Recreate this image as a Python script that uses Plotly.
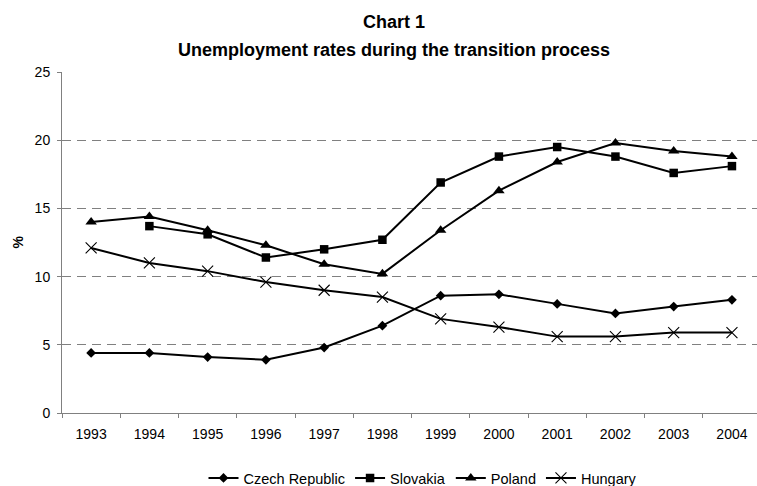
import plotly.graph_objects as go

YEARS = ["1993", "1994", "1995", "1996", "1997", "1998",
         "1999", "2000", "2001", "2002", "2003", "2004"]

CZECH = [4.4, 4.4, 4.1, 3.9, 4.8, 6.4, 8.6, 8.7, 8.0, 7.3, 7.8, 8.3]
SLOVAKIA = [None, 13.7, 13.1, 11.4, 12.0, 12.7, 16.9, 18.8, 19.5, 18.8, 17.6, 18.1]
POLAND = [14.0, 14.4, 13.4, 12.3, 10.9, 10.2, 13.4, 16.3, 18.4, 19.8, 19.2, 18.8]
HUNGARY = [12.1, 11.0, 10.4, 9.6, 9.0, 8.5, 6.9, 6.3, 5.6, 5.6, 5.9, 5.9]

Y_TICKS = [0, 5, 10, 15, 20, 25]

FONT = "Liberation Sans, Arial, sans-serif"
GRID = "#808080"

W, H = 757, 486
L, R, T, B = 62, 0, 72, 73

series = [
    ("Czech Republic", CZECH, dict(symbol="diamond", size=7.5, color="black")),
    ("Slovakia", SLOVAKIA, dict(symbol="square", size=8.5, color="black")),
    ("Poland", POLAND, dict(symbol="triangle-up", size=10, color="black")),
    ("Hungary", HUNGARY, dict(symbol="x-thin", size=11, color="black",
                              line=dict(width=1.1, color="black"))),
]

fig = go.Figure()
for name, vals, marker in series:
    fig.add_trace(go.Scatter(
        x=YEARS, y=vals, name=name, mode="lines+markers",
        line=dict(color="black", width=2), marker=marker,
    ))

plot_w = W - L - R
plot_h = H - T - B


def px_x(px):
    return (px - L) / plot_w


def px_y(py):
    return (H - B - py) / plot_h


fig.update_layout(
    width=W, height=H,
    margin=dict(l=L, r=R, t=T, b=B),
    paper_bgcolor="white", plot_bgcolor="white",
    font=dict(family=FONT, size=14, color="black"),
    showlegend=True,
    legend=dict(orientation="h", xref="container", yref="container",
                x=423 / W, xanchor="center", y=1 - 478 / H, yanchor="middle",
                font=dict(size=14.5, family=FONT), bgcolor="rgba(0,0,0,0)",
                itemwidth=30),
    annotations=[
        dict(text="<b>Chart 1</b>", xref="paper", yref="paper",
             x=px_x(394), y=px_y(22), xanchor="center", yanchor="middle",
             showarrow=False, font=dict(size=18, family=FONT)),
        dict(text="<b>Unemployment rates during the transition process</b>",
             xref="paper", yref="paper",
             x=px_x(394), y=px_y(50), xanchor="center", yanchor="middle",
             showarrow=False, font=dict(size=18, family=FONT)),
        dict(text="<b>%</b>", xref="paper", yref="paper",
             x=px_x(17), y=0.5, xanchor="center", yanchor="middle",
             textangle=-90, showarrow=False, font=dict(size=14, family=FONT)),
    ],
)

fig.update_xaxes(
    type="category", range=[-0.5, 11.43],
    tickson="boundaries", ticks="outside", ticklen=4, tickcolor=GRID, tickwidth=1,
    showgrid=False, zeroline=False,
    showline=True, linecolor=GRID, linewidth=1,
    tickfont=dict(size=14), ticklabelstandoff=8,
)

fig.update_yaxes(
    range=[0, 25], tickvals=Y_TICKS,
    showgrid=True, gridcolor=GRID, gridwidth=1, griddash="9px,6px",
    zeroline=False, showline=True, linecolor=GRID, linewidth=1,
    ticks="outside", ticklen=4, tickcolor=GRID, tickfont=dict(size=14),
    ticklabelstandoff=4,
)

fig.write_html("out.html", config={"displayModeBar": False},
               post_script="document.body.style.margin='0px';")
